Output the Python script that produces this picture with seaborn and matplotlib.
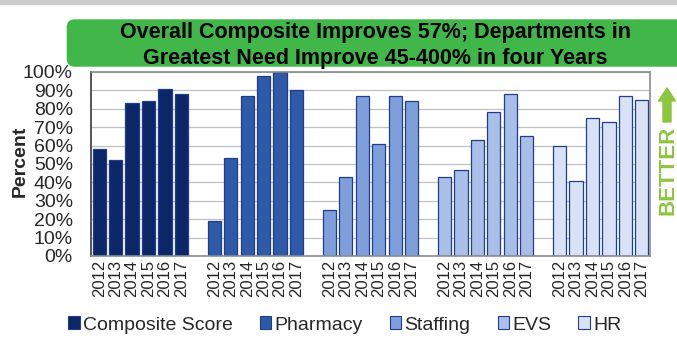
import pandas as pd
import matplotlib
matplotlib.use("Agg")
import matplotlib.pyplot as plt
from matplotlib.patches import Patch, FancyBboxPatch, FancyArrow, Rectangle
import seaborn as sns

# 데이터 (그림에서 읽은 값, %)
years = ["2012", "2013", "2014", "2015", "2016", "2017"]
departments = ["Composite Score", "Pharmacy", "Staffing", "EVS", "HR"]
composite = [58, 52, 83, 84, 91, 88]
pharmacy = [19, 53, 87, 98, 100, 90]
staffing = [25, 43, 87, 61, 87, 84]
evs = [43, 47, 63, 78, 88, 65]
hr = [60, 41, 75, 73, 87, 85]
yticks = [0, 10, 20, 30, 40, 50, 60, 70, 80, 90, 100]

colors = ["#0c2768", "#2f5aa8", "#7f9fdb", "#a9bfe8", "#d8e2f6"]
edge = "#1f3d8c"
green = "#8cc63f"

sns.set_theme(style="white")
plt.rcParams['font.family'] = ['Liberation Sans', 'DejaVu Sans']

# 표 만들기: 부서별 6개 막대 + 그룹 사이 빈 칸
series = [composite, pharmacy, staffing, evs, hr]
rows = []
order = []
labels = []
for i, (dept, vals) in enumerate(zip(departments, series)):
    for yr, v in zip(years, vals):
        key = f"{dept} {yr}"
        rows.append({"slot": key, "value": v / 100, "dept": dept})
        order.append(key)
        labels.append(yr)
    if i < len(departments) - 1:
        order.append(f"gap{i}")
        labels.append("")
df = pd.DataFrame(rows)

fig = plt.figure(figsize=(6.77, 3.39), dpi=100)
ax = fig.add_axes([91 / 677, 1 - 256 / 339, 559 / 677, 184 / 339])

sns.barplot(data=df, x="slot", y="value", hue="dept", order=order,
            hue_order=departments, palette=colors, dodge=False, width=0.81,
            saturation=1, edgecolor=edge, linewidth=0.9, legend=False, ax=ax)

ax.set_xlim(-0.5, len(order) - 0.5)
ax.set_ylim(0, 1)
ax.set_yticks([t / 100 for t in yticks])
ax.set_yticklabels([f"{t}%" for t in yticks], fontsize=14)
ax.set_xticks(range(len(order)))
ax.set_xticklabels(labels, rotation=90, fontsize=12)
ax.tick_params(axis="y", length=0, pad=13)
ax.tick_params(axis="x", length=0, pad=3)
ax.set_xlabel("")
ax.set_ylabel("Percent", fontsize=14, fontweight="bold")
ax.yaxis.set_label_coords(-0.111, 0.516)

ax.yaxis.grid(True, color="#c0c0c0", linewidth=0.9)
ax.set_axisbelow(True)
for side in ["top", "right", "bottom"]:
    ax.spines[side].set_color("#8c8c8c")
    ax.spines[side].set_linewidth(1.2)
ax.spines["left"].set_color("#555555")
ax.spines["left"].set_linewidth(1.4)

# 위쪽 회색 띠
fig.patches.append(Rectangle((0, 1 - 3.5 / 339), 1, 3.5 / 339,
                             transform=fig.transFigure, color="#cccccc", zorder=0))

# 제목 박스
box = FancyBboxPatch((0.667, 2.723), 6.3, 0.474,
                     boxstyle="round,pad=0,rounding_size=0.08",
                     transform=fig.dpi_scale_trans, facecolor="#41b649",
                     edgecolor="none", zorder=1)
fig.patches.append(box)
fig.text(375 / 677, 1 - 38 / 339, "Overall Composite Improves 57%; Departments in",
         ha="center", va="baseline", fontsize=15.5, fontweight="bold", color="black")
fig.text(375 / 677, 1 - 64 / 339, "Greatest Need Improve 45-400% in four Years",
         ha="center", va="baseline", fontsize=15.5, fontweight="bold", color="black")

# BETTER 화살표
fig.text(668 / 677, 1 - 170 / 339, "BETTER", rotation=90, ha="center", va="center",
         fontsize=16, fontweight="bold", color=green)
arrow = FancyArrow(6.67, (339 - 122) / 100, 0, 0.34, width=0.08, head_width=0.17,
                   head_length=0.13, length_includes_head=True,
                   transform=fig.dpi_scale_trans, color=green)
fig.patches.append(arrow)

# 범례
handles = [Patch(facecolor=c, edgecolor=edge, linewidth=0.8) for c in colors]
fig.legend(handles, departments, loc="center", bbox_to_anchor=(0.509, 1 - 325 / 339),
           ncol=5, frameon=False, fontsize=14, handlelength=0.6, handleheight=0.6,
           handletextpad=0.15, columnspacing=1.4, borderpad=0)

fig.savefig("out.png", dpi=100)
